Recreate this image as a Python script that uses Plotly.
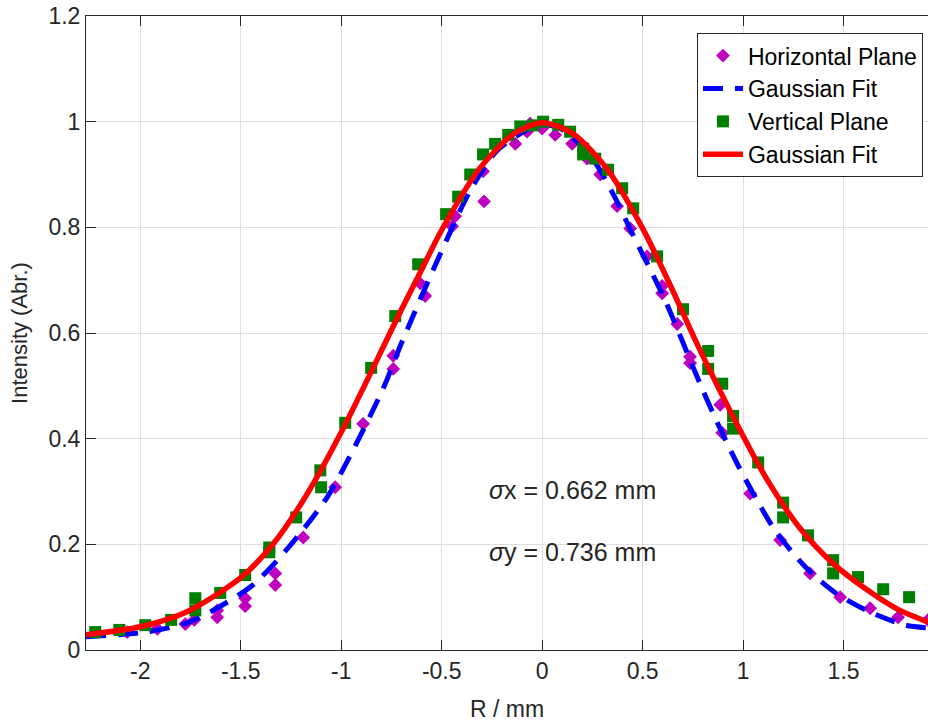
import plotly.graph_objects as go

# Horizontal plane measurements (magenta diamonds)
h_x = [-2.065, -1.915, -1.776, -1.731, -1.617, -1.617, -1.478, -1.478, -1.328, -1.328,
       -1.189, -1.030, -0.891, -0.741, -0.741, -0.607, -0.582, -0.433, -0.448, -0.294,
       -0.289, -0.134, -0.075, -0.060, 0.000, 0.065, 0.149, 0.224, 0.289, 0.373,
       0.438, 0.522, 0.597, 0.597, 0.672, 0.736, 0.736, 0.886, 0.896, 1.035,
       1.184, 1.333, 1.483, 1.632, 1.771, 1.920]
h_y = [0.034, 0.040, 0.049, 0.057, 0.075, 0.062, 0.098, 0.083, 0.145, 0.123,
       0.213, 0.308, 0.428, 0.557, 0.532, 0.694, 0.670, 0.821, 0.802, 0.906,
       0.849, 0.958, 0.981, 0.996, 0.987, 0.975, 0.958, 0.930, 0.900, 0.840,
       0.798, 0.745, 0.689, 0.675, 0.617, 0.543, 0.555, 0.464, 0.411, 0.296,
       0.208, 0.145, 0.100, 0.079, 0.062, 0.057]

# Vertical plane measurements (green squares)
v_x = [-2.224, -2.104, -1.975, -1.846, -1.726, -1.726, -1.602, -1.478, -1.358, -1.358,
       -1.224, -1.104, -1.100, -0.980, -0.851, -0.731, -0.617, -0.478, -0.418, -0.358,
       -0.294, -0.234, -0.169, -0.109, -0.045, 0.005, 0.080, 0.139, 0.204, 0.204,
       0.264, 0.328, 0.398, 0.453, 0.572, 0.701, 0.826, 0.826, 0.896, 0.950,
       0.950, 1.075, 1.199, 1.199, 1.323, 1.448, 1.448, 1.572, 1.697, 1.826]
v_y = [0.034, 0.038, 0.047, 0.057, 0.098, 0.075, 0.108, 0.142, 0.194, 0.185,
       0.251, 0.340, 0.308, 0.430, 0.534, 0.632, 0.730, 0.825, 0.858, 0.900,
       0.938, 0.958, 0.975, 0.991, 0.993, 1.000, 0.994, 0.981, 0.949, 0.938,
       0.930, 0.909, 0.874, 0.836, 0.745, 0.645, 0.566, 0.532, 0.504, 0.443,
       0.419, 0.355, 0.279, 0.251, 0.217, 0.170, 0.145, 0.138, 0.115, 0.100]

# Gaussian fit curves
hfit_x = [-2.27, -1.97, -1.77, -1.61, -1.44, -1.26, -1.07, -0.955, -0.79, -0.70,
          -0.53, -0.36, -0.23, -0.11, -0.01, 0.10, 0.25, 0.36, 0.45, 0.55,
          0.62, 0.78, 0.86, 0.97, 1.07, 1.16, 1.31, 1.46, 1.63, 1.81, 1.92]
hfit_y = [0.025, 0.034, 0.051, 0.081, 0.123, 0.195, 0.289, 0.368, 0.496, 0.581,
          0.730, 0.868, 0.943, 0.977, 0.994, 0.985, 0.930, 0.858, 0.787, 0.711,
          0.655, 0.509, 0.440, 0.353, 0.283, 0.226, 0.157, 0.108, 0.072, 0.047, 0.042]

vfit_x = [-2.27, -2.0, -1.77, -1.5, -1.34, -1.17, -1.0, -0.84, -0.71, -0.61,
          -0.5, -0.31, -0.14, 0.0, 0.15, 0.32, 0.5, 0.65, 0.77, 1.0,
          1.12, 1.28, 1.45, 1.62, 1.77, 1.92]
vfit_y = [0.029, 0.044, 0.072, 0.137, 0.200, 0.295, 0.412, 0.535, 0.637, 0.712,
          0.795, 0.912, 0.977, 0.998, 0.978, 0.912, 0.798, 0.680, 0.580, 0.405,
          0.322, 0.232, 0.163, 0.113, 0.077, 0.053]

x_ticks = [-2, -1.5, -1, -0.5, 0, 0.5, 1, 1.5]
x_tick_text = ["-2", "-1.5", "-1", "-0.5", "0", "0.5", "1", "1.5"]
y_ticks = [0, 0.2, 0.4, 0.6, 0.8, 1.0, 1.2]
y_tick_text = ["0", "0.2", "0.4", "0.6", "0.8", "1", "1.2"]

names = ["Horizontal Plane", "Gaussian Fit", "Vertical Plane", "Gaussian Fit"]
sigma_text = ["<i>σ</i>x = 0.662 mm", "<i>σ</i>y = 0.736 mm"]

FONT = "Liberation Sans, Arial, sans-serif"
TXT = "#262626"

fig = go.Figure()
fig.add_trace(go.Scatter(x=h_x, y=h_y, mode="markers", name=names[0],
                         marker=dict(symbol="diamond", size=9, color="#bf00bf",
                                     line=dict(color="#bf00bf", width=1.5))))
fig.add_trace(go.Scatter(x=hfit_x, y=hfit_y, mode="lines", name=names[1],
                         line=dict(color="#0000ff", width=5, dash="20px,12px",
                                   shape="spline", smoothing=0.8)))
fig.add_trace(go.Scatter(x=v_x, y=v_y, mode="markers", name=names[2],
                         marker=dict(symbol="square", size=12, color="#007f00",
                                     line=dict(width=0))))
fig.add_trace(go.Scatter(x=vfit_x, y=vfit_y, mode="lines", name=names[3],
                         line=dict(color="#ff0000", width=5.5,
                                   shape="spline", smoothing=0.8)))

fig.add_annotation(x=-0.274, y=0.302, text=sigma_text[0], showarrow=False,
                   xanchor="left", yanchor="middle",
                   font=dict(family=FONT, size=25, color=TXT))
fig.add_annotation(x=-0.274, y=0.185, text=sigma_text[1], showarrow=False,
                   xanchor="left", yanchor="middle",
                   font=dict(family=FONT, size=25, color=TXT))

fig.update_layout(
    width=928, height=723,
    margin=dict(l=86, r=0, t=16, b=73),
    paper_bgcolor="white", plot_bgcolor="white",
    font=dict(family=FONT, size=22, color=TXT),
    showlegend=True,
    legend=dict(x=0.994, y=0.973, xanchor="right", yanchor="top",
                bgcolor="white", bordercolor=TXT, borderwidth=1,
                font=dict(family=FONT, size=23, color="#000000"),
                tracegroupgap=0, itemwidth=40),
    xaxis=dict(range=[-2.27, 1.92], tickvals=x_ticks, ticktext=x_tick_text,
               ticks="inside", ticklen=10, tickwidth=1, tickcolor=TXT,
               showline=True, linecolor=TXT, linewidth=1, mirror="ticks",
               showgrid=True, gridcolor="#dfdfdf", gridwidth=1, zeroline=False,
               tickfont=dict(family=FONT, size=23, color=TXT),
               title=dict(text="R / mm", font=dict(family=FONT, size=23, color=TXT),
                          standoff=18)),
    yaxis=dict(range=[0, 1.2], tickvals=y_ticks, ticktext=y_tick_text,
               ticks="inside", ticklen=10, tickwidth=1, tickcolor=TXT,
               showline=True, linecolor=TXT, linewidth=1, mirror=False,
               showgrid=True, gridcolor="#dfdfdf", gridwidth=1, zeroline=False,
               tickfont=dict(family=FONT, size=23, color=TXT),
               title=dict(text="Intensity (Abr.)", font=dict(family=FONT, size=22, color=TXT),
                          standoff=14)),
)

fig.write_html("out.html")
